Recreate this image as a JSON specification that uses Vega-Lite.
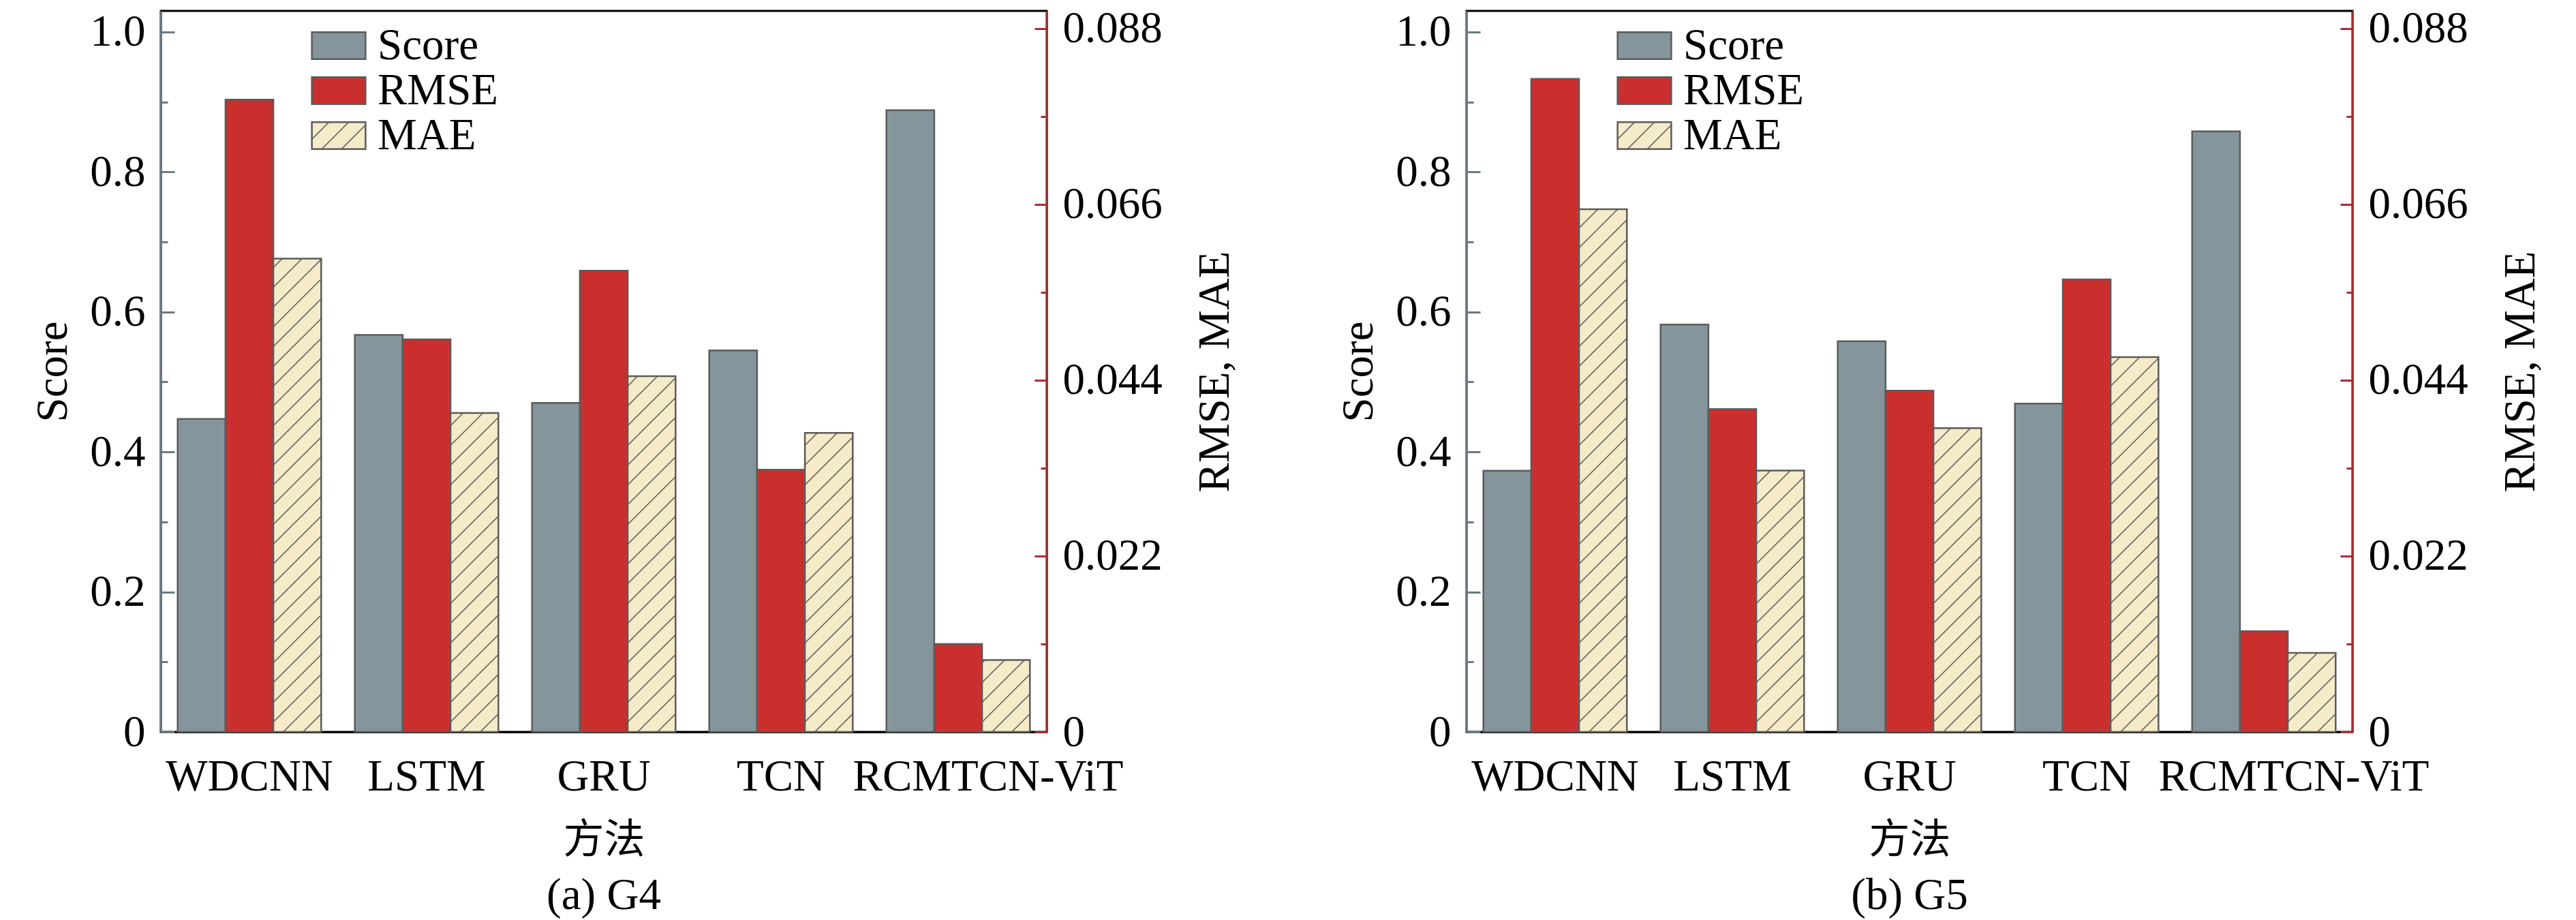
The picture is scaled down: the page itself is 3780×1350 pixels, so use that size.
{
  "$schema": "https://vega.github.io/schema/vega-lite/v6.json",
  "padding": {"left": 44, "top": 8, "right": 5, "bottom": 0},
  "params": [
    {"name": "hatch", "value": [
      {"offset":0.0233,"color":"#f6ebc9"},{"offset":0.025,"color":"#4d4d4d"},{"offset":0.0267,"color":"#f6ebc9"},
      {"offset":0.0483,"color":"#f6ebc9"},{"offset":0.05,"color":"#4d4d4d"},{"offset":0.0517,"color":"#f6ebc9"},
      {"offset":0.0733,"color":"#f6ebc9"},{"offset":0.075,"color":"#4d4d4d"},{"offset":0.0767,"color":"#f6ebc9"},
      {"offset":0.0983,"color":"#f6ebc9"},{"offset":0.1,"color":"#4d4d4d"},{"offset":0.1017,"color":"#f6ebc9"},
      {"offset":0.1233,"color":"#f6ebc9"},{"offset":0.125,"color":"#4d4d4d"},{"offset":0.1267,"color":"#f6ebc9"},
      {"offset":0.1483,"color":"#f6ebc9"},{"offset":0.15,"color":"#4d4d4d"},{"offset":0.1517,"color":"#f6ebc9"},
      {"offset":0.1733,"color":"#f6ebc9"},{"offset":0.175,"color":"#4d4d4d"},{"offset":0.1767,"color":"#f6ebc9"},
      {"offset":0.1983,"color":"#f6ebc9"},{"offset":0.2,"color":"#4d4d4d"},{"offset":0.2017,"color":"#f6ebc9"},
      {"offset":0.2233,"color":"#f6ebc9"},{"offset":0.225,"color":"#4d4d4d"},{"offset":0.2267,"color":"#f6ebc9"},
      {"offset":0.2483,"color":"#f6ebc9"},{"offset":0.25,"color":"#4d4d4d"},{"offset":0.2517,"color":"#f6ebc9"},
      {"offset":0.2733,"color":"#f6ebc9"},{"offset":0.275,"color":"#4d4d4d"},{"offset":0.2767,"color":"#f6ebc9"},
      {"offset":0.2983,"color":"#f6ebc9"},{"offset":0.3,"color":"#4d4d4d"},{"offset":0.3017,"color":"#f6ebc9"},
      {"offset":0.3233,"color":"#f6ebc9"},{"offset":0.325,"color":"#4d4d4d"},{"offset":0.3267,"color":"#f6ebc9"},
      {"offset":0.3483,"color":"#f6ebc9"},{"offset":0.35,"color":"#4d4d4d"},{"offset":0.3517,"color":"#f6ebc9"},
      {"offset":0.3733,"color":"#f6ebc9"},{"offset":0.375,"color":"#4d4d4d"},{"offset":0.3767,"color":"#f6ebc9"},
      {"offset":0.3983,"color":"#f6ebc9"},{"offset":0.4,"color":"#4d4d4d"},{"offset":0.4017,"color":"#f6ebc9"},
      {"offset":0.4233,"color":"#f6ebc9"},{"offset":0.425,"color":"#4d4d4d"},{"offset":0.4267,"color":"#f6ebc9"},
      {"offset":0.4483,"color":"#f6ebc9"},{"offset":0.45,"color":"#4d4d4d"},{"offset":0.4517,"color":"#f6ebc9"},
      {"offset":0.4733,"color":"#f6ebc9"},{"offset":0.475,"color":"#4d4d4d"},{"offset":0.4767,"color":"#f6ebc9"},
      {"offset":0.4983,"color":"#f6ebc9"},{"offset":0.5,"color":"#4d4d4d"},{"offset":0.5017,"color":"#f6ebc9"},
      {"offset":0.5233,"color":"#f6ebc9"},{"offset":0.525,"color":"#4d4d4d"},{"offset":0.5267,"color":"#f6ebc9"},
      {"offset":0.5483,"color":"#f6ebc9"},{"offset":0.55,"color":"#4d4d4d"},{"offset":0.5517,"color":"#f6ebc9"},
      {"offset":0.5733,"color":"#f6ebc9"},{"offset":0.575,"color":"#4d4d4d"},{"offset":0.5767,"color":"#f6ebc9"},
      {"offset":0.5983,"color":"#f6ebc9"},{"offset":0.6,"color":"#4d4d4d"},{"offset":0.6017,"color":"#f6ebc9"},
      {"offset":0.6233,"color":"#f6ebc9"},{"offset":0.625,"color":"#4d4d4d"},{"offset":0.6267,"color":"#f6ebc9"},
      {"offset":0.6483,"color":"#f6ebc9"},{"offset":0.65,"color":"#4d4d4d"},{"offset":0.6517,"color":"#f6ebc9"},
      {"offset":0.6733,"color":"#f6ebc9"},{"offset":0.675,"color":"#4d4d4d"},{"offset":0.6767,"color":"#f6ebc9"},
      {"offset":0.6983,"color":"#f6ebc9"},{"offset":0.7,"color":"#4d4d4d"},{"offset":0.7017,"color":"#f6ebc9"},
      {"offset":0.7233,"color":"#f6ebc9"},{"offset":0.725,"color":"#4d4d4d"},{"offset":0.7267,"color":"#f6ebc9"},
      {"offset":0.7483,"color":"#f6ebc9"},{"offset":0.75,"color":"#4d4d4d"},{"offset":0.7517,"color":"#f6ebc9"},
      {"offset":0.7733,"color":"#f6ebc9"},{"offset":0.775,"color":"#4d4d4d"},{"offset":0.7767,"color":"#f6ebc9"},
      {"offset":0.7983,"color":"#f6ebc9"},{"offset":0.8,"color":"#4d4d4d"},{"offset":0.8017,"color":"#f6ebc9"}
    ]}
  ],
  "data": {
    "values": [
      {"panel": "G4", "model": "WDCNN", "metric": "Score", "value": 0.447},
      {"panel": "G4", "model": "WDCNN", "metric": "RMSE", "value": 0.0791},
      {"panel": "G4", "model": "WDCNN", "metric": "MAE", "value": 0.0592},
      {"panel": "G4", "model": "LSTM", "metric": "Score", "value": 0.567},
      {"panel": "G4", "model": "LSTM", "metric": "RMSE", "value": 0.0491},
      {"panel": "G4", "model": "LSTM", "metric": "MAE", "value": 0.0399},
      {"panel": "G4", "model": "GRU", "metric": "Score", "value": 0.470},
      {"panel": "G4", "model": "GRU", "metric": "RMSE", "value": 0.0577},
      {"panel": "G4", "model": "GRU", "metric": "MAE", "value": 0.0445},
      {"panel": "G4", "model": "TCN", "metric": "Score", "value": 0.545},
      {"panel": "G4", "model": "TCN", "metric": "RMSE", "value": 0.0328},
      {"panel": "G4", "model": "TCN", "metric": "MAE", "value": 0.0374},
      {"panel": "G4", "model": "RCMTCN-ViT", "metric": "Score", "value": 0.888},
      {"panel": "G4", "model": "RCMTCN-ViT", "metric": "RMSE", "value": 0.0110},
      {"panel": "G4", "model": "RCMTCN-ViT", "metric": "MAE", "value": 0.0090},
      {"panel": "G5", "model": "WDCNN", "metric": "Score", "value": 0.373},
      {"panel": "G5", "model": "WDCNN", "metric": "RMSE", "value": 0.0817},
      {"panel": "G5", "model": "WDCNN", "metric": "MAE", "value": 0.0654},
      {"panel": "G5", "model": "LSTM", "metric": "Score", "value": 0.582},
      {"panel": "G5", "model": "LSTM", "metric": "RMSE", "value": 0.0404},
      {"panel": "G5", "model": "LSTM", "metric": "MAE", "value": 0.0327},
      {"panel": "G5", "model": "GRU", "metric": "Score", "value": 0.558},
      {"panel": "G5", "model": "GRU", "metric": "RMSE", "value": 0.0427},
      {"panel": "G5", "model": "GRU", "metric": "MAE", "value": 0.0380},
      {"panel": "G5", "model": "TCN", "metric": "Score", "value": 0.469},
      {"panel": "G5", "model": "TCN", "metric": "RMSE", "value": 0.0566},
      {"panel": "G5", "model": "TCN", "metric": "MAE", "value": 0.0469},
      {"panel": "G5", "model": "RCMTCN-ViT", "metric": "Score", "value": 0.858},
      {"panel": "G5", "model": "RCMTCN-ViT", "metric": "RMSE", "value": 0.0126},
      {"panel": "G5", "model": "RCMTCN-ViT", "metric": "MAE", "value": 0.0099}
    ]
  },
  "hconcat": [
    {
      "width": 1300,
      "height": 1058,
      "title": {"text": "(a) G4", "orient": "bottom", "offset": 20},
      "transform": [{"filter": "datum.panel === 'G4'"}],
      "encoding": {
        "x": {
          "field": "model", "type": "nominal",
          "sort": ["WDCNN", "LSTM", "GRU", "TCN", "RCMTCN-ViT"],
          "scale": {"paddingInner": 0.19, "paddingOuter": 0.095},
          "axis": {
            "title": "方法", "labelAngle": 0, "ticks": false, "domainColor": "black", "labelLimit": 0,
            "labelPadding": 34, "titlePadding": 32, "titleFont": "Noto Sans CJK SC", "titleFontSize": 60,
            "labelOffset": {"condition": {"test": "datum.value === 'RCMTCN-ViT'", "value": 44}, "value": 0}
          }
        },
        "xOffset": {"field": "metric", "type": "nominal", "scale": {"domain": ["Score", "RMSE", "MAE"], "paddingInner": 0, "paddingOuter": 0}}
      },
      "layer": [
        {
          "transform": [{"filter": "datum.metric === 'Score'"}],
          "mark": {"type": "bar", "fill": "#84969c", "strokeWidth": 2.5},
          "encoding": {
            "y": {
              "field": "value", "type": "quantitative",
              "scale": {"domain": [0, 1.03], "nice": false},
              "axis": {
                "orient": "left", "title": "Score", "titlePadding": 20,
                "values": [0, 0.1, 0.2, 0.3, 0.4, 0.5, 0.6, 0.7, 0.8, 0.9, 1.0],
                "labelExpr": "round(datum.value * 10) % 2 === 0 ? (datum.value === 0 ? '0' : format(datum.value, '.1f')) : ''",
                "tickSize": {"condition": {"test": "round(datum.value * 10) % 2 === 0", "value": -20}, "value": -10},
                "labelPadding": 43, "domainColor": "#6c7a80", "tickColor": "#6c7a80"
              }
            },
            "stroke": {
              "field": "metric", "type": "nominal",
              "scale": {"domain": ["Score", "RMSE", "MAE"], "range": ["#5b5b5b", "#5b5b5b", "#5b5b5b"]},
              "legend": {
                "orient": "none", "legendX": 228, "legendY": 18, "title": null, "padding": 0,
                "symbolType": "M-1.25,-0.627H1.25V0.627H-1.25Z", "symbolSize": 3969,
                "symbolStrokeWidth": 2.5, "symbolOpacity": 1,
                "labelFontSize": 65, "labelOffset": 24, "rowPadding": -6, "labelLimit": 0,
                "encoding": {"symbols": {
                  "fill": {"value": {"expr": "datum.value === 'Score' ? '#84969c' : datum.value === 'RMSE' ? '#cb2f2d' : {gradient: 'linear', x1: 0.9206, y1: 1, x2: -10.849, y2: -4.903, stops: hatch}"}},
                  "strokeWidth": {"value": 2.5}
                }}
              }
            }
          }
        },
        {
          "transform": [{"filter": "datum.metric === 'RMSE'"}],
          "mark": {"type": "bar", "fill": "#cb2f2d", "stroke": "#5b5b5b", "strokeWidth": 2.5},
          "encoding": {
            "y": {
              "field": "value", "type": "quantitative",
              "scale": {"domain": [0, 0.0902], "nice": false},
              "axis": {
                "orient": "right", "title": "RMSE, MAE", "titleAngle": 270, "titleBaseline": "top", "titlePadding": 46,
                "values": [0, 0.011, 0.022, 0.033, 0.044, 0.055, 0.066, 0.077, 0.088],
                "labelExpr": "round(datum.value / 0.011) % 2 === 0 ? (datum.value === 0 ? '0' : format(datum.value, '.3f')) : ''",
                "tickSize": {"condition": {"test": "round(datum.value / 0.011) % 2 === 0", "value": -18}, "value": -9},
                "labelPadding": 41, "domainColor": "#a3302f", "tickColor": "#a3302f"
              }
            }
          }
        },
        {
          "transform": [{"filter": "datum.metric === 'MAE'"}],
          "mark": {"type": "bar", "stroke": "#5b5b5b", "strokeWidth": 2.5},
          "encoding": {
            "y": {"field": "value", "type": "quantitative", "scale": {"domain": [0, 0.0902], "nice": false}, "axis": null},
            "fill": {"value": {"expr": "{gradient: 'linear', x1: 1.0357, y1: 1, x2: 1.0357 - 81200 / (4900 + pow(datum.value * 11729.5, 2)), y2: 1 - datum.value * 13606220 / (4900 + pow(datum.value * 11729.5, 2)), stops: hatch}"}}
          }
        }
      ],
      "resolve": {"scale": {"y": "independent"}}
    },
    {
      "width": 1300,
      "height": 1058,
      "title": {"text": "(b) G5", "orient": "bottom", "offset": 20},
      "transform": [{"filter": "datum.panel === 'G5'"}],
      "encoding": {
        "x": {
          "field": "model", "type": "nominal",
          "sort": ["WDCNN", "LSTM", "GRU", "TCN", "RCMTCN-ViT"],
          "scale": {"paddingInner": 0.19, "paddingOuter": 0.095},
          "axis": {
            "title": "方法", "labelAngle": 0, "ticks": false, "domainColor": "black", "labelLimit": 0,
            "labelPadding": 34, "titlePadding": 32, "titleFont": "Noto Sans CJK SC", "titleFontSize": 60,
            "labelOffset": {"condition": {"test": "datum.value === 'RCMTCN-ViT'", "value": 44}, "value": 0}
          }
        },
        "xOffset": {"field": "metric", "type": "nominal", "scale": {"domain": ["Score", "RMSE", "MAE"], "paddingInner": 0, "paddingOuter": 0}}
      },
      "layer": [
        {
          "transform": [{"filter": "datum.metric === 'Score'"}],
          "mark": {"type": "bar", "fill": "#84969c", "strokeWidth": 2.5},
          "encoding": {
            "y": {
              "field": "value", "type": "quantitative",
              "scale": {"domain": [0, 1.03], "nice": false},
              "axis": {
                "orient": "left", "title": "Score", "titlePadding": 20,
                "values": [0, 0.1, 0.2, 0.3, 0.4, 0.5, 0.6, 0.7, 0.8, 0.9, 1.0],
                "labelExpr": "round(datum.value * 10) % 2 === 0 ? (datum.value === 0 ? '0' : format(datum.value, '.1f')) : ''",
                "tickSize": {"condition": {"test": "round(datum.value * 10) % 2 === 0", "value": -20}, "value": -10},
                "labelPadding": 43, "domainColor": "#6c7a80", "tickColor": "#6c7a80"
              }
            },
            "stroke": {
              "field": "metric", "type": "nominal",
              "scale": {"domain": ["Score", "RMSE", "MAE"], "range": ["#5b5b5b", "#5b5b5b", "#5b5b5b"]},
              "legend": {
                "orient": "none", "legendX": 228, "legendY": 18, "title": null, "padding": 0,
                "symbolType": "M-1.25,-0.627H1.25V0.627H-1.25Z", "symbolSize": 3969,
                "symbolStrokeWidth": 2.5, "symbolOpacity": 1,
                "labelFontSize": 65, "labelOffset": 24, "rowPadding": -6, "labelLimit": 0,
                "encoding": {"symbols": {
                  "fill": {"value": {"expr": "datum.value === 'Score' ? '#84969c' : datum.value === 'RMSE' ? '#cb2f2d' : {gradient: 'linear', x1: 0.9206, y1: 1, x2: -10.849, y2: -4.903, stops: hatch}"}},
                  "strokeWidth": {"value": 2.5}
                }}
              }
            }
          }
        },
        {
          "transform": [{"filter": "datum.metric === 'RMSE'"}],
          "mark": {"type": "bar", "fill": "#cb2f2d", "stroke": "#5b5b5b", "strokeWidth": 2.5},
          "encoding": {
            "y": {
              "field": "value", "type": "quantitative",
              "scale": {"domain": [0, 0.0902], "nice": false},
              "axis": {
                "orient": "right", "title": "RMSE, MAE", "titleAngle": 270, "titleBaseline": "top", "titlePadding": 46,
                "values": [0, 0.011, 0.022, 0.033, 0.044, 0.055, 0.066, 0.077, 0.088],
                "labelExpr": "round(datum.value / 0.011) % 2 === 0 ? (datum.value === 0 ? '0' : format(datum.value, '.3f')) : ''",
                "tickSize": {"condition": {"test": "round(datum.value / 0.011) % 2 === 0", "value": -18}, "value": -9},
                "labelPadding": 41, "domainColor": "#a3302f", "tickColor": "#a3302f"
              }
            }
          }
        },
        {
          "transform": [{"filter": "datum.metric === 'MAE'"}],
          "mark": {"type": "bar", "stroke": "#5b5b5b", "strokeWidth": 2.5},
          "encoding": {
            "y": {"field": "value", "type": "quantitative", "scale": {"domain": [0, 0.0902], "nice": false}, "axis": null},
            "fill": {"value": {"expr": "{gradient: 'linear', x1: 1.0357, y1: 1, x2: 1.0357 - 81200 / (4900 + pow(datum.value * 11729.5, 2)), y2: 1 - datum.value * 13606220 / (4900 + pow(datum.value * 11729.5, 2)), stops: hatch}"}}
          }
        }
      ],
      "resolve": {"scale": {"y": "independent"}}
    }
  ],
  "spacing": 616,
  "bounds": "flush",
  "resolve": {"scale": {"stroke": "independent"}, "legend": {"stroke": "independent"}},
  "config": {
    "font": "Liberation Serif",
    "view": {"stroke": "black", "strokeWidth": 3},
    "axis": {
      "grid": false, "labelFont": "Liberation Serif", "labelFontSize": 65, "labelColor": "black",
      "titleFont": "Liberation Serif", "titleFontSize": 65, "titleFontWeight": "normal", "titleColor": "black",
      "domainWidth": 3, "tickWidth": 3
    },
    "legend": {"labelFont": "Liberation Serif", "labelColor": "black", "symbolStrokeWidth": 2.5},
    "title": {"font": "Liberation Serif", "fontSize": 65, "fontWeight": "normal", "color": "black"}
  }
}
